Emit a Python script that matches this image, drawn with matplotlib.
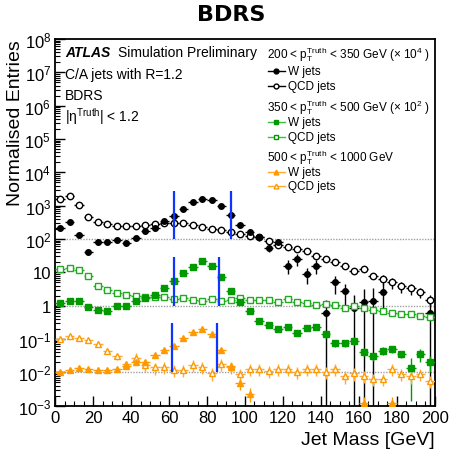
import numpy as np
import matplotlib
matplotlib.use('Agg')
import matplotlib.pyplot as plt
from matplotlib.ticker import FixedLocator, FixedFormatter, LogLocator, MultipleLocator

plt.rcParams['font.family'] = ['Liberation Sans', 'DejaVu Sans']
plt.rcParams['mathtext.fontset'] = 'custom'
plt.rcParams['mathtext.rm'] = 'Liberation Sans'
plt.rcParams['mathtext.it'] = 'Liberation Sans:italic'
plt.rcParams['mathtext.bf'] = 'Liberation Sans:bold'

# bin centres, 5 GeV bins
mass = np.arange(2.5, 200, 5.0)
nan = np.nan

# 200 < pT < 350 GeV, already scaled by 1e4
w_lo = [220, 320, 130, 40, 80, 80, 93, 76, 107, 170, 215, 355, 500, 780, 1260, 1550, 1450, 980, 525, 265,
        160, 112, 54, 80, 16, 25, 9, 16, 0.6, 5.0, 2.8, 0.83, 1.3, 1.35, 2.6, nan, nan, nan, nan, 0.6]
w_lo_rel = [0.1]*20 + [0.15, 0.2, 0.25, 0.25, 0.45, 0.4, 0.5, 0.45, 1.5, 0.55, 0.65, 1.5, 1.5, 1.5, 0.75,
                       0, 0, 0, 0, 1.5]
q_lo = [1585, 1905, 1047, 447, 331, 282, 251, 251, 251, 263, 282, 302, 302, 295, 269, 224, 200, 191, 158, 138,
        126, 112, 89, 68, 56, 50, 43, 30, 26, 20, 15, 11.2, 12.6, 7.6, 6.3, 5.0, 3.8, 3.3, 2.6, 1.5]
q_lo_rel = [0.05]*20 + [0.08]*8 + [0.15]*6 + [0.35]*6

# 350 < pT < 500 GeV, scaled by 1e2
w_mid = [1.17, 1.41, 1.35, 0.89, 0.76, 0.68, 1.0, 1.0, 1.41, 1.7, 2.14, 3.4, 5.6, 9.3, 14.8, 21.4, 15.1, 7.1, 2.8, 1.26,
         0.71, 0.355, 0.263, 0.2, 0.224, 0.151, 0.214, 0.224, 0.141, 0.076, 0.076, 0.089, 0.042, 0.030, 0.045, 0.05,
         0.035, 0.014, 0.035, 0.021]
w_mid_rel = [0.08]*20 + [0.12]*8 + [0.25]*9 + [0.9, 0.4, 0.5]
q_mid = [12.6, 13.5, 12.0, 7.6, 4.0, 2.95, 2.34, 2.09, 1.9, 1.78, 1.86, 1.78, 1.58, 1.74, 1.48, 1.41, 1.58, 1.41, 1.48, 1.66,
         1.51, 1.51, 1.51, 1.32, 1.58, 1.32, 1.2, 1.07, 1.12, 1.07, 0.85, 1.0, 0.85, 0.76, 0.71, 0.6, 0.56, 0.56, 0.5, 0.45]
q_mid_rel = [0.04]*28 + [0.08]*12

# 500 < pT < 1000 GeV
w_hi = [0.010, 0.0117, 0.0135, 0.0126, 0.0117, 0.0117, 0.0126, 0.0151, 0.02, 0.021, 0.034, 0.047, 0.063, 0.107,
        0.158, 0.2, 0.141, 0.048, 0.0151, 0.0047, 0.0023, nan, nan, nan, nan, nan, nan, nan, nan, nan, nan, nan,
        0.00117, nan, nan, 0.00117, nan, nan, nan, nan]
w_hi_rel = [0.12]*18 + [0.25, 0.35, 0.45] + [0]*11 + [0.6, 0, 0, 0.6, 0, 0, 0, 0]
q_hi = [0.1, 0.126, 0.105, 0.093, 0.071, 0.045, 0.030, 0.0178, 0.027, 0.0166, 0.0141, 0.0148, 0.0117, 0.0117,
        0.0166, 0.0148, 0.0095, 0.0178, 0.0148, 0.0089, 0.0126, 0.0126, 0.0112, 0.0126, 0.0126, 0.0105, 0.0126,
        0.0126, 0.0105, 0.0126, 0.0076, 0.0095, 0.0079, 0.0063, 0.0063, 0.0126, 0.0089, 0.0076, 0.0089, 0.0056]
q_hi_rel = [0.08]*4 + [0.2]*4 + [0.4]*32

# mass window lines (x low, x high, y low, y high)
windows = [(62.5, 92.8, 100, 2800), (62.5, 86.5, 1, 29), (61.4, 85.2, 0.01, 0.3)]
ref_levels = [100, 1, 0.01]

fig = plt.figure(figsize=(4.52, 4.52), dpi=100)
ax = fig.add_axes([0.1223, 0.1002, 0.8394, 0.8113])
ax.set_yscale('log')


def draw(vals, rel, color, marker, ms, filled, ecolor=None):
    v = np.array(vals, dtype=float)
    r = np.array(rel, dtype=float)
    ok = np.isfinite(v)
    x = mass[ok]
    y = v[ok]
    e = y * r[ok]
    ax.errorbar(x, y, xerr=2.5, yerr=e, fmt=marker, ms=ms,
                color=ecolor or color, mec=color, mfc=color if filled else 'white',
                mew=1.0, elinewidth=1.0, capsize=0, zorder=3)


for lvl in ref_levels:
    ax.axhline(lvl, color='#a0a0a0', lw=1.0, ls=(0, (1, 1)), zorder=1)

draw(q_lo, q_lo_rel, 'black', 'o', 4.6, False)
draw(w_lo, w_lo_rel, 'black', 'o', 4.0, True)
draw(q_mid, q_mid_rel, '#22aa22', 's', 4.5, False)
draw(w_mid, w_mid_rel, '#009900', 's', 4.2, True)
draw(q_hi, q_hi_rel, '#ff9900', '^', 5.0, False, '#ffaa33')
draw(w_hi, w_hi_rel, '#ff9900', '^', 4.0, True)

for x0, x1, y0, y1 in windows:
    ax.vlines([x0, x1], y0, y1, color='#1034ff', lw=1.6, zorder=4)

ax.set_xlim(0, 200)
ax.set_ylim(1e-3, 1e8)
exps = list(range(-3, 9))
labels = []
for k in exps:
    if k == 0:
        labels.append('1')
    elif k == 1:
        labels.append('10')
    else:
        labels.append(r'$10^{%d}$' % k)
ax.yaxis.set_major_locator(FixedLocator([10.0**k for k in exps]))
ax.yaxis.set_major_formatter(FixedFormatter(labels))
ax.yaxis.set_minor_locator(LogLocator(base=10, subs=np.arange(2, 10), numticks=100))
ax.xaxis.set_major_locator(MultipleLocator(20))
ax.xaxis.set_minor_locator(MultipleLocator(5))
ax.tick_params(which='both', direction='in', labelsize=12, pad=3)
ax.tick_params(which='major', length=7, width=1)
ax.tick_params(which='minor', length=3.5, width=0.8)
for s in ax.spines.values():
    s.set_linewidth(1.3)

ax.set_xlabel('Jet Mass [GeV]', fontsize=14, loc='right')
ax.xaxis.set_label_coords(1.0, -0.068)
ax.set_ylabel('Normalised Entries', fontsize=14, loc='top')
ax.yaxis.set_label_coords(-0.082, 1.0)

fig.text(0.511, 0.967, 'BDRS', ha='center', va='center', fontsize=16, fontweight='bold', family='DejaVu Sans')

# annotations
ax.text(0.0256, 0.964, 'ATLAS', transform=ax.transAxes, fontsize=10, fontweight='bold', fontstyle='italic', va='center')
ax.text(0.166, 0.964, 'Simulation Preliminary', transform=ax.transAxes, fontsize=10, va='center')
ax.text(0.0256, 0.905, 'C/A jets with R=1.2', transform=ax.transAxes, fontsize=10, va='center')
ax.text(0.0256, 0.846, 'BDRS', transform=ax.transAxes, fontsize=10, va='center')
ax.text(0.0256, 0.790, r'|$\mathrm{\eta}^{\mathrm{Truth}}$| < 1.2', transform=ax.transAxes, fontsize=10, va='center')

# legend
headers = [r'200 < $\mathrm{p}_{\mathrm{T}}^{\mathrm{Truth}}$ < 350 GeV ($\times$ 10$^{4}$ )',
           r'350 < $\mathrm{p}_{\mathrm{T}}^{\mathrm{Truth}}$ < 500 GeV ($\times$ 10$^{2}$ )',
           r'500 < $\mathrm{p}_{\mathrm{T}}^{\mathrm{Truth}}$ < 1000 GeV']
header_y = [0.959, 0.8146, 0.6782]
entry_y = [(0.9137, 0.8709), (0.7737, 0.7328), (0.6373, 0.5991)]
styles = [('black', 'black', 'o', 'o'), ('#009900', '#44bb44', 's', 's'), ('#ff9900', '#ffaa33', '^', '^')]
for h, hy, (yw, yq), (c, lc, mw, mq) in zip(headers, header_y, entry_y, styles):
    ax.text(0.5574, hy, h, transform=ax.transAxes, fontsize=8.5, va='center')
    for yy, lab, m, filled in [(yw, 'W jets', mw, True), (yq, 'QCD jets', mq, False)]:
        ax.plot([0.5614, 0.6054], [yy, yy], color=lc, lw=1.0, transform=ax.transAxes, clip_on=False)
        ax.plot([0.583], [yy], marker=m, ms=3.5, color=c, mfc=c if filled else 'white', mew=1.0,
                transform=ax.transAxes, clip_on=False)
        ax.text(0.6125, yy, lab, transform=ax.transAxes, fontsize=8.5, va='center')

fig.savefig('out.png', dpi=100)
